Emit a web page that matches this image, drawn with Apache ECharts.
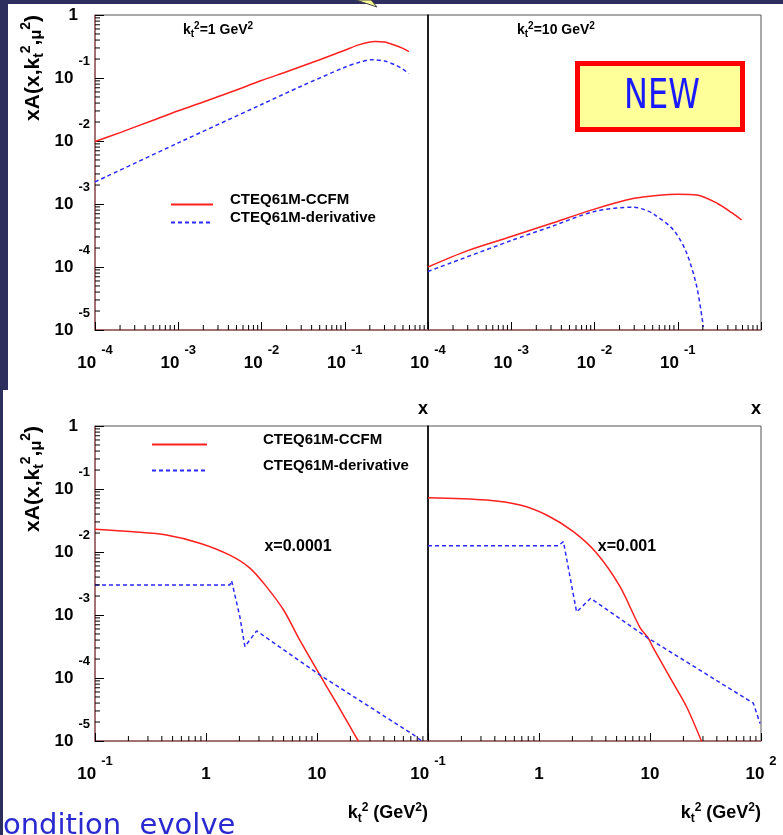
<!DOCTYPE html>
<html><head><meta charset="utf-8">
<script src="https://cdn.jsdelivr.net/npm/echarts@6/dist/echarts.min.js"></script>
<style>html,body{margin:0;padding:0;background:#fff}#c{width:783px;height:835px}</style>
</head><body><div id="c"></div>
<script>
// ---------------- DATA ----------------
const seriesNames = ['CTEQ61M-CCFM', 'CTEQ61M-derivative'];

// Panel A: kt^2 = 1 GeV^2, versus x
const panelA_x_ccfm = [1e-4, 2e-4, 5e-4, 1e-3, 2e-3, 5e-3, 1e-2, 2e-2, 5e-2, 0.1, 0.15, 0.23, 0.3, 0.4, 0.5, 0.59];
const panelA_y_ccfm = [0.0098, 0.0136, 0.0214, 0.0302, 0.0417, 0.0646, 0.0912, 0.126, 0.195, 0.275, 0.339, 0.380, 0.372, 0.331, 0.295, 0.263];
const panelA_x_deriv = [1e-4, 1e-3, 1e-2, 3e-2, 0.1, 0.15, 0.21, 0.3, 0.4, 0.5, 0.59];
const panelA_y_deriv = [0.00224, 0.00933, 0.038, 0.0741, 0.148, 0.178, 0.195, 0.186, 0.162, 0.138, 0.117];

// Panel B: kt^2 = 10 GeV^2, versus x
const panelB_x_ccfm = [1e-4, 3e-4, 1e-3, 3e-3, 1e-2, 3e-2, 0.06, 0.1, 0.17, 0.3, 0.45, 0.585];
const panelB_y_ccfm = [1.0e-4, 1.82e-4, 3.04e-4, 4.9e-4, 8.3e-4, 1.23e-3, 1.38e-3, 1.43e-3, 1.39e-3, 1.02e-3, 7.2e-4, 5.57e-4];
const panelB_x_deriv = [1e-4, 1e-3, 3e-3, 1e-2, 3e-2, 0.04, 0.05, 0.0885, 0.128, 0.169, 0.203];
const panelB_y_deriv = [8.5e-5, 2.63e-4, 4.37e-4, 7.6e-4, 8.9e-4, 8.1e-4, 7.1e-4, 3.9e-4, 1.66e-4, 4.9e-5, 1.12e-5];

// Panel C: x = 0.0001, versus kt^2
const panelC_k_ccfm = [0.1, 0.22, 0.44, 0.88, 1.64, 2.5, 3.5, 5.0, 7.0, 10.6, 15, 19.8, 23.6];
const panelC_y_ccfm = [0.0229, 0.0209, 0.0186, 0.0138, 0.00891, 0.0055, 0.00282, 0.0012, 3.98e-4, 1.12e-4, 3.98e-5, 1.7e-5, 1.0e-5];
const panelC_k_deriv = [0.1, 1.64, 1.70, 2.02, 2.24, 2.86, 11.0, 73.8, 87.7];
const panelC_y_deriv = [0.00299, 0.00299, 0.00351, 9.3e-4, 3.16e-4, 5.6e-4, 1.07e-4, 1.26e-5, 1.0e-5];

// Panel D: x = 0.001, versus kt^2
const panelD_k_ccfm = [0.1, 0.336, 0.675, 1.17, 2.04, 3.31, 5.37, 8.13, 9.66, 10.7, 16.2, 21.4, 29.2];
const panelD_y_ccfm = [0.0728, 0.0668, 0.0557, 0.0386, 0.021, 0.00955, 0.00282, 6.3e-4, 4.27e-4, 3.0e-4, 8.3e-5, 3.47e-5, 9.8e-6];
const panelD_k_deriv = [0.1, 1.49, 1.66, 2.18, 2.92, 9.66, 85.3, 98];
const panelD_y_deriv = [0.0126, 0.0126, 0.0146, 0.00112, 0.00184, 4.27e-4, 3.98e-5, 1.9e-5];

// Tick label decades (exponents) shown on each axis
const topLeftXExps = [-4, -3, -2, -1];
const topRightXExps = [-4, -3, -2, -1];
const botLeftXExps = [-1, 0, 1];
const botRightXExps = [-1, 0, 1, 2];
const leftYExps = [0, -1, -2, -3, -4, -5];
// Minor tick multipliers and decades
const minorMult = [2, 3, 4, 5, 6, 7, 8, 9];
const topXDecades = [-4, -3, -2, -1];
const botXDecades = [-1, 0, 1];
const yDecades = [-5, -4, -3, -2, -1];

// --------------- STYLE ---------------
const FONT = 'Liberation Sans';
const RED = '#ff2020', BLUE = '#2b2bff';
const AXIS_BROWN = '#a06060';

const zip = (xs, ys) => xs.map((x, i) => [x, ys[i]]);

function labelFor(allowed, isY) {
  return function (v) {
    const e = Math.round(Math.log10(v));
    if (allowed.indexOf(e) < 0) return '';
    if (e === 0) return isY ? '{one|1}' : '{b|1}';
    if (e === 1) return '{b|10}';
    return '{b|10}{s|' + e + '}';
  };
}
const xRich = {
  b: {fontFamily: FONT, fontWeight: 'bold', fontSize: 17, color: '#000', lineHeight: 40},
  s: {fontFamily: FONT, fontWeight: 'bold', fontSize: 13, color: '#000', padding: [0, 0, 26, 5]}
};
const yRich = {
  b: {fontFamily: FONT, fontWeight: 'bold', fontSize: 17, color: '#000'},
  s: {fontFamily: FONT, fontWeight: 'bold', fontSize: 13, color: '#000', padding: [0, 0, 34, 5]},
  one: {fontFamily: FONT, fontWeight: 'bold', fontSize: 17, color: '#000', padding: [0, 12, 0, 0]}
};

const grids = [
  {left: 95, top: 15, width: 333, height: 315},
  {left: 428, top: 15, width: 333, height: 315},
  {left: 95, top: 426, width: 333, height: 315},
  {left: 428, top: 426, width: 333, height: 315}
].map(g => Object.assign(g, {show: true, borderColor: '#555', borderWidth: 1, backgroundColor: 'transparent'}));

function mkX(i, min, max, exps) {
  return {
    type: 'log', logBase: 10, gridIndex: i, min: min, max: max,
    axisLine: {show: true, onZero: false, lineStyle: {color: AXIS_BROWN, width: 1.5}},
    axisTick: {show: true, inside: true, length: 8, lineStyle: {color: '#000', width: 1}},
    minorTick: {show: false}, splitLine: {show: false},
    axisLabel: {show: true, margin: 13, formatter: labelFor(exps, false), rich: xRich, showMinLabel: true, showMaxLabel: true}
  };
}
function mkY(i, withLabels) {
  return {
    type: 'log', logBase: 10, gridIndex: i, min: 1e-5, max: 1,
    axisLine: {show: true, onZero: false, lineStyle: {color: withLabels ? AXIS_BROWN : '#000', width: 1.5}},
    axisTick: {show: withLabels, inside: true, length: 9, lineStyle: {color: '#000', width: 1}},
    minorTick: {show: false}, splitLine: {show: false},
    axisLabel: withLabels ? {show: true, margin: 5, formatter: labelFor(leftYExps, true), rich: yRich, showMinLabel: true, showMaxLabel: true} : {show: false}
  };
}

function minorXSeries(i, decades, yMin) {
  const data = [];
  decades.forEach(d => minorMult.forEach(m => data.push([m * Math.pow(10, d), yMin])));
  return {
    type: 'custom', xAxisIndex: i, yAxisIndex: i, silent: true, z: 5, clip: false, data: data,
    renderItem: function (p, api) {
      const c = api.coord([api.value(0), api.value(1)]);
      return {type: 'line', shape: {x1: c[0], y1: c[1], x2: c[0], y2: c[1] - 5}, style: {stroke: '#000', lineWidth: 1}};
    }
  };
}
function minorYSeries(i, xMin) {
  const data = [];
  yDecades.forEach(d => minorMult.forEach(m => data.push([xMin, m * Math.pow(10, d)])));
  return {
    type: 'custom', xAxisIndex: i, yAxisIndex: i, silent: true, z: 5, clip: false, data: data,
    renderItem: function (p, api) {
      const c = api.coord([api.value(0), api.value(1)]);
      return {type: 'line', shape: {x1: c[0], y1: c[1], x2: c[0] + 5, y2: c[1]}, style: {stroke: '#000', lineWidth: 1}};
    }
  };
}
function lineSeries(i, name, data, dashed, smooth) {
  const col = dashed ? BLUE : RED;
  return {
    type: 'line', name: name, xAxisIndex: i, yAxisIndex: i, data: data,
    symbol: 'none', showSymbol: false, smooth: smooth, z: 3,
    lineStyle: {color: col, width: 1.5, type: dashed ? [4, 3] : 'solid'},
    itemStyle: {color: col}
  };
}

const annRich = (size) => ({
  n: {fontFamily: FONT, fontWeight: 'bold', fontSize: size, color: '#000'},
  sup: {fontFamily: FONT, fontWeight: 'bold', fontSize: Math.round(size * 0.68), color: '#000', padding: [0, 0, Math.round(size * 0.6), 0]},
  sub: {fontFamily: FONT, fontWeight: 'bold', fontSize: Math.round(size * 0.68), color: '#000', padding: [Math.round(size * 0.6), 0, 0, 0]},
  mu: {fontFamily: FONT, fontWeight: 'bold', fontSize: Math.round(size * 0.75), color: '#000', padding: [Math.round(size * 0.35), 0, 0, 0]}
});
const yTitle = '{n|xA(x,k}{sub|t}{sup|2}{n|,}{mu|μ}{sup|2}{n|)}';
const kTitle = '{n|k}{sub|t}{sup|2}{n| (GeV}{sup|2}{n|)}';

function txt(x, y, text, opt) {
  return Object.assign({type: 'text', x: x, y: y, z: 50, silent: true,
    style: Object.assign({text: text, fill: '#000', font: 'bold 16px ' + FONT}, opt.style || {})}, opt.el || {});
}

const graphic = [
  {type: 'rect', shape: {x: 0, y: 0, width: 783, height: 4}, style: {fill: '#2d2d5e'}, z: 60},
  {type: 'rect', shape: {x: 0, y: 0, width: 8, height: 390}, style: {fill: '#2d2d5e'}, z: 60},
  {type: 'rect', shape: {x: 0, y: 390, width: 3, height: 445}, style: {fill: '#2d2d5e'}, z: 60},
  {type: 'polygon', shape: {points: [[356, 0], [371, 0], [377, 7]]}, style: {fill: '#ffff99', stroke: '#444', lineWidth: 1}, z: 61},
  // NEW box
  {type: 'rect', shape: {x: 577.5, y: 63.5, width: 165, height: 66}, style: {fill: '#ffff99', stroke: '#ff0000', lineWidth: 5}, z: 40},
  txt(662, 98, 'NEW', {style: {font: '40px "DejaVu Sans"', fill: '#1a1aff', align: 'center', verticalAlign: 'middle'}, el: {scaleX: 0.8}}),
  // y axis titles
  txt(33, 15, yTitle, {style: {rich: annRich(21), align: 'right', verticalAlign: 'middle'}, el: {rotation: Math.PI / 2}}),
  txt(33, 426, yTitle, {style: {rich: annRich(21), align: 'right', verticalAlign: 'middle'}, el: {rotation: Math.PI / 2}}),
  // panel annotations
  txt(183, 30, '{n|k}{sub|t}{sup|2}{n|=1 GeV}{sup|2}', {style: {rich: annRich(14), align: 'left', verticalAlign: 'middle'}}),
  txt(517, 30, '{n|k}{sub|t}{sup|2}{n|=10 GeV}{sup|2}', {style: {rich: annRich(14), align: 'left', verticalAlign: 'middle'}}),
  txt(298, 547, 'x=0.0001', {style: {font: 'bold 16px ' + FONT, align: 'center', verticalAlign: 'middle'}}),
  txt(627, 547, 'x=0.001', {style: {font: 'bold 16px ' + FONT, align: 'center', verticalAlign: 'middle'}}),
  // axis names
  txt(428, 409, 'x', {style: {font: 'bold 18px ' + FONT, align: 'right', verticalAlign: 'middle'}}),
  txt(761, 409, 'x', {style: {font: 'bold 18px ' + FONT, align: 'right', verticalAlign: 'middle'}}),
  txt(428, 813, kTitle, {style: {rich: annRich(18), align: 'right', verticalAlign: 'middle'}}),
  txt(761, 813, kTitle, {style: {rich: annRich(18), align: 'right', verticalAlign: 'middle'}}),
  // slide text fragment
  txt(3, 841, 'ondition  evolve', {style: {font: '29px "DejaVu Sans"', fill: '#2a2ad0', align: 'left', verticalAlign: 'bottom'}})
];

const legendStyle = (padLeft) => ({
  fontFamily: FONT, fontWeight: 'bold', fontSize: 15, color: '#000',
  rich: {t: {fontFamily: FONT, fontWeight: 'bold', fontSize: 15, color: '#000', padding: [0, 0, 10, padLeft]}}
});

const option = {
  animation: false,
  backgroundColor: '#ffffff',
  grid: grids,
  xAxis: [
    mkX(0, 1e-4, 1, topLeftXExps),
    mkX(1, 1e-4, 1, topRightXExps),
    mkX(2, 0.1, 100, botLeftXExps),
    mkX(3, 0.1, 100, botRightXExps)
  ],
  yAxis: [mkY(0, true), mkY(1, false), mkY(2, true), mkY(3, false)],
  legend: [
    {data: seriesNames, left: 170, top: 192, padding: 0, orient: 'vertical', itemWidth: 42, itemHeight: 14, itemGap: 0,
     selectedMode: false, itemStyle: {opacity: 0}, formatter: '{t|{name}}', textStyle: legendStyle(12)},
    {data: seriesNames, left: 151, top: 432, padding: 0, orient: 'vertical', itemWidth: 55, itemHeight: 14, itemGap: 8,
     selectedMode: false, itemStyle: {opacity: 0}, formatter: '{t|{name}}', textStyle: legendStyle(51)}
  ],
  series: [
    lineSeries(0, seriesNames[0], zip(panelA_x_ccfm, panelA_y_ccfm), false, 0.3),
    lineSeries(0, seriesNames[1], zip(panelA_x_deriv, panelA_y_deriv), true, 0.3),
    lineSeries(1, seriesNames[0], zip(panelB_x_ccfm, panelB_y_ccfm), false, 0.3),
    lineSeries(1, seriesNames[1], zip(panelB_x_deriv, panelB_y_deriv), true, 0.3),
    lineSeries(2, seriesNames[0], zip(panelC_k_ccfm, panelC_y_ccfm), false, 0.3),
    lineSeries(2, seriesNames[1], zip(panelC_k_deriv, panelC_y_deriv), true, false),
    lineSeries(3, seriesNames[0], zip(panelD_k_ccfm, panelD_y_ccfm), false, 0.3),
    lineSeries(3, seriesNames[1], zip(panelD_k_deriv, panelD_y_deriv), true, false),
    minorXSeries(0, topXDecades, 1e-5),
    minorXSeries(1, topXDecades, 1e-5),
    minorXSeries(2, botXDecades, 1e-5),
    minorXSeries(3, botXDecades, 1e-5),
    minorYSeries(0, 1e-4),
    minorYSeries(2, 0.1)
  ],
  graphic: graphic
};
const chart = echarts.init(document.getElementById('c'));
chart.setOption(option);
</script>
</body></html>
